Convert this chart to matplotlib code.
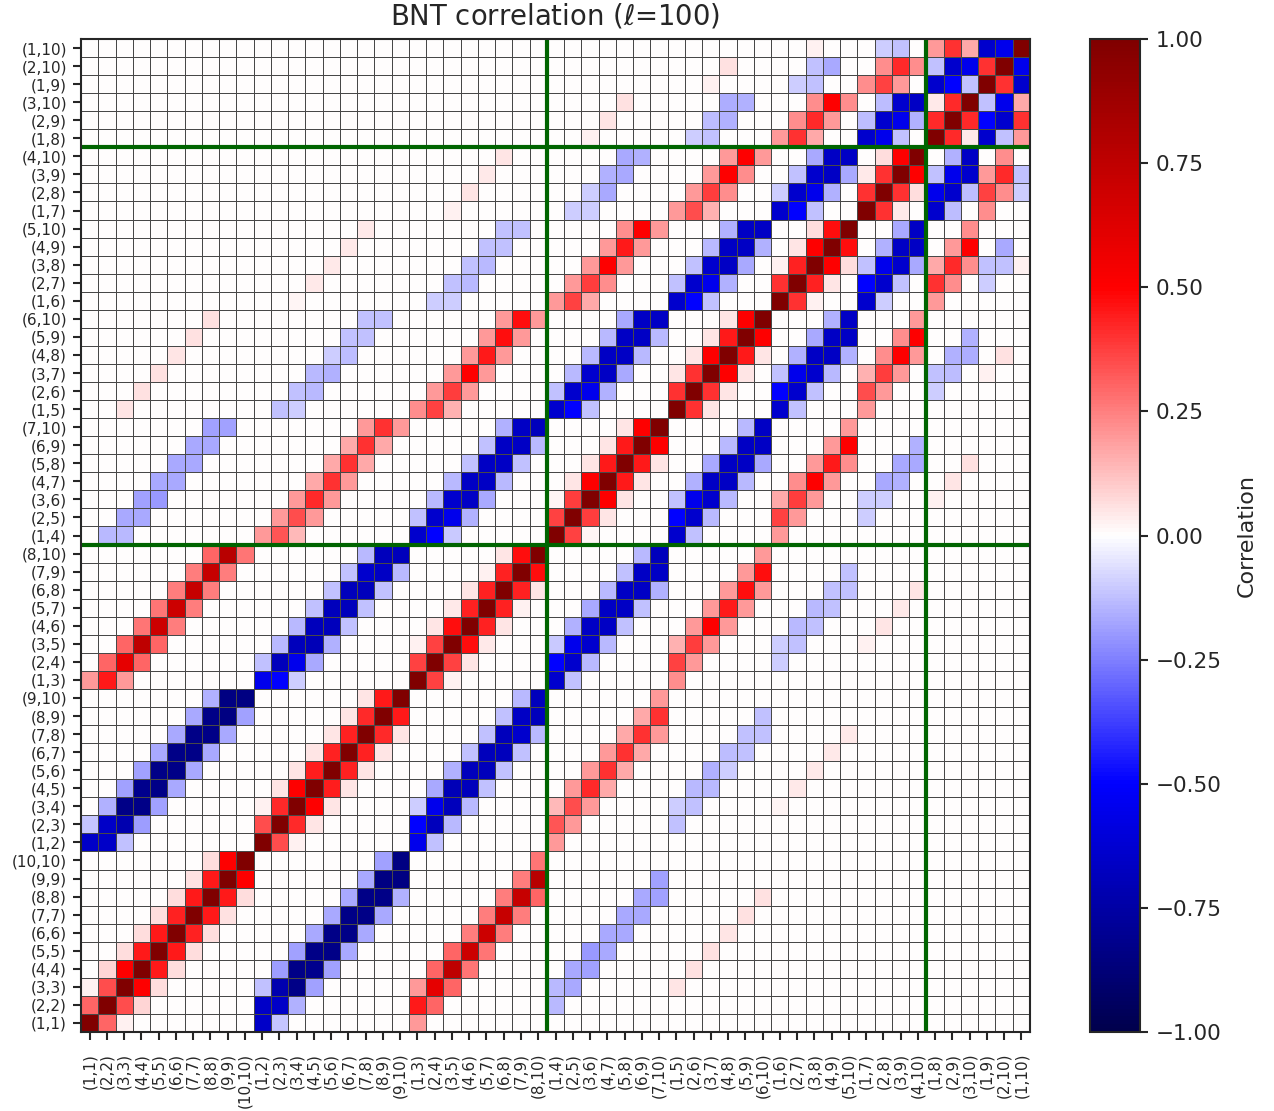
import numpy as np
import matplotlib
matplotlib.use("Agg")
import matplotlib.pyplot as plt

labels = [
    "(1,1)", "(2,2)", "(3,3)", "(4,4)", "(5,5)", "(6,6)", "(7,7)", "(8,8)", "(9,9)", "(10,10)",
    "(1,2)", "(2,3)", "(3,4)", "(4,5)", "(5,6)", "(6,7)", "(7,8)", "(8,9)", "(9,10)",
    "(1,3)", "(2,4)", "(3,5)", "(4,6)", "(5,7)", "(6,8)", "(7,9)", "(8,10)",
    "(1,4)", "(2,5)", "(3,6)", "(4,7)", "(5,8)", "(6,9)", "(7,10)",
    "(1,5)", "(2,6)", "(3,7)", "(4,8)", "(5,9)", "(6,10)",
    "(1,6)", "(2,7)", "(3,8)", "(4,9)", "(5,10)",
    "(1,7)", "(2,8)", "(3,9)", "(4,10)",
    "(1,8)", "(2,9)", "(3,10)",
    "(1,9)", "(2,10)",
    "(1,10)",
]
block_sizes = [10, 9, 8, 7, 6, 5, 4, 3, 2, 1]

# Same-block values: off-diagonal +1 and +2 (the diagonal is 1)
same_0 = [[.30, .35, .50, .45, .45, .43, .45, .45, .50], [.03, .08, .07, .07, .07, .07, .06, .07]]
same_1 = [[.35, .42, .50, .44, .43, .43, .42, .45], [.03, .05, .05, .05, .05, .05, .05]]
same_2 = [[.37, .37, .47, .43, .43, .43, .47], [.03, .05, .04, .05, .03, .05]]
same_3 = [[.37, .38, .50, .45, .45, .50], [.02, .05, .05, .05, .05]]
same_4 = [[.40, .40, .50, .45, .50], [.05, .05, .05, .05]]
same_5 = [[.40, .43, .50, .47], [.03, .05, .07]]
same_6 = [[.40, .40, .50], [.04, .07]]
same_7 = [[.42, .42], [.04]]
same_8 = [[.40], []]
same_9 = [[], []]

# Cross-block bands, from offset -2 upward
x_0_1 = [[-.125, -.19, -.18, -.165, -.165, -.165, -.165, -.18],
         [-.65, -.72, -.83, -.83, -.83, -.83, -.83, -.85, -.85],
         [-.65, -.65, -.83, -.82, -.83, -.83, -.83, -.83, -.85],
         [-.11, -.155, -.18, -.18, -.17, -.17, -.165, -.155]]
x_1_2 = [[-.10, -.165, -.155, -.125, -.125, -.125, -.135],
         [-.50, -.55, -.70, -.68, -.68, -.68, -.66, -.68],
         [-.55, -.68, -.68, -.68, -.68, -.68, -.64, -.68],
         [-.125, -.135, -.14, -.125, -.125, -.125, -.135]]
x_2_3 = [[-.105, -.155, -.165, -.135, -.125, -.135],
         [-.50, -.55, -.66, -.66, -.66, -.66, -.68],
         [-.64, -.64, -.64, -.66, -.66, -.66, -.66],
         [-.125, -.135, -.135, -.125, -.125, -.155]]
x_3_4 = [[-.125, -.155, -.165, -.135, -.135],
         [-.50, -.55, -.66, -.66, -.66, -.66],
         [-.64, -.64, -.64, -.66, -.66, -.66],
         [-.125, -.135, -.14, -.135, -.165]]
x_4_5 = [[-.125, -.155, -.165, -.155],
         [-.50, -.55, -.66, -.66, -.66],
         [-.64, -.64, -.64, -.66, -.66],
         [-.125, -.125, -.135, -.155]]
x_5_6 = [[-.12, -.15, -.17],
         [-.50, -.55, -.66, -.66],
         [-.64, -.64, -.64, -.66],
         [-.10, -.12, -.17]]
x_6_7 = [[-.12, -.15],
         [-.55, -.55, -.66],
         [-.64, -.64, -.64],
         [-.13, -.13]]
x_7_8 = [[-.125], [-.50, -.55], [-.64, -.64], [-.125]]
x_8_9 = [[], [-.55], [-.64], []]

x_0_2 = [[.20, .30, .30, .25, .25, .25, .25, .27],
         [.45, .60, .75, .70, .70, .72, .72, .78],
         [.20, .30, .30, .27, .27, .25, .25, .30]]
x_1_3 = [[.14, .20, .20, .20, .17, .17, .20],
         [.33, .35, .42, .40, .40, .40, .40],
         [.20, .20, .20, .17, .17, .17, .20]]
x_2_4 = [[.15, .20, .20, .20, .20, .20],
         [.37, .38, .50, .45, .47, .47],
         [.22, .20, .20, .20, .20, .20]]
x_3_5 = [[.17, .22, .20, .20, .20],
         [.37, .38, .50, .45, .50],
         [.20, .20, .20, .20, .22]]
x_4_6 = [[.15, .22, .22, .20],
         [.35, .38, .50, .50],
         [.20, .20, .20, .20]]
x_5_7 = [[.17, .20, .22], [.40, .42, .50], [.20, .22, .22]]
x_6_8 = [[.20, .22], [.37, .42], [.22, .22]]
x_7_9 = [[.17], [.40], [.20]]

x_0_3 = [[-.14, -.17, -.20, -.17, -.17, -.17, -.18],
         [-.14, -.17, -.18, -.17, -.17, -.17, -.18]]
x_1_4 = [[-.10, -.14, -.15, -.13, -.12, -.12],
         [-.12, -.12, -.14, -.10, -.12, -.12]]
x_2_5 = [[-.10, -.14, -.14, -.12, -.12],
         [-.10, -.12, -.12, -.12, -.12]]
x_3_6 = [[-.10, -.17, -.17, -.15],
         [-.10, -.10, -.15, -.17]]
x_4_7 = [[-.12, -.15, -.15], [-.10, -.13, -.16]]
x_5_8 = [[-.12, -.17], [-.10, -.12]]
x_6_9 = [[-.12], [-.10]]

x_0_4 = [[.05, .06, .06, .05, .06, .06]]
x_1_5 = [[.02, .04, .04, .04, .04]]
x_2_6 = [[.03, .05, .04, .05]]
x_3_7 = [[.03, .05, .06]]
x_4_8 = [[.03, .06]]
x_5_9 = [[.03]]

same_blocks = [same_0, same_1, same_2, same_3, same_4, same_5, same_6, same_7, same_8, same_9]
cross_blocks = {
    (0, 1): x_0_1, (1, 2): x_1_2, (2, 3): x_2_3, (3, 4): x_3_4, (4, 5): x_4_5,
    (5, 6): x_5_6, (6, 7): x_6_7, (7, 8): x_7_8, (8, 9): x_8_9,
    (0, 2): x_0_2, (1, 3): x_1_3, (2, 4): x_2_4, (3, 5): x_3_5, (4, 6): x_4_6,
    (5, 7): x_5_7, (6, 8): x_6_8, (7, 9): x_7_9,
    (0, 3): x_0_3, (1, 4): x_1_4, (2, 5): x_2_5, (3, 6): x_3_6, (4, 7): x_4_7,
    (5, 8): x_5_8, (6, 9): x_6_9,
    (0, 4): x_0_4, (1, 5): x_1_5, (2, 6): x_2_6, (3, 7): x_3_7, (4, 8): x_4_8, (5, 9): x_5_9,
}
separators = [27, 49]

n = len(labels)
starts = np.concatenate([[0], np.cumsum(block_sizes)])
M = np.eye(n)


def fill(p, q, offset, values):
    for k, v in enumerate(values):
        a = k + max(0, -offset)
        c = a + offset
        M[starts[p] + a, starts[q] + c] = v
        M[starts[q] + c, starts[p] + a] = v


for p, bands in enumerate(same_blocks):
    for j, values in enumerate(bands):
        fill(p, p, j + 1, values)
for (p, q), bands in cross_blocks.items():
    for j, values in enumerate(bands):
        fill(p, q, j - 2, values)

W, H = 1274, 1111
fig = plt.figure(figsize=(W / 100, H / 100), dpi=100)
ax = fig.add_axes([81 / W, 1 - 1032 / H, (1030 - 81) / W, (1032 - 39) / H])
cax = fig.add_axes([1090 / W, 1 - 1032 / H, 50 / W, (1032 - 39) / H])

edges = np.arange(n + 1)
mesh = ax.pcolormesh(edges, edges, M, cmap="seismic", vmin=-1, vmax=1,
                     edgecolors="#484848", linewidth=0.55)
ax.set_xlim(0, n)
ax.set_ylim(0, n)
ticks = np.arange(n) + 0.5
ax.set_xticks(ticks)
ax.set_yticks(ticks)
ax.set_xticklabels(labels, rotation=90, fontsize=11, color="#262626")
ax.set_yticklabels(labels, fontsize=11, color="#262626")
ax.tick_params(axis="y", length=6, width=1.5, pad=4, color="#262626")
ax.tick_params(axis="x", length=6, width=1.5, pad=9, color="#262626")
for spine in ax.spines.values():
    spine.set_linewidth(1.5)
    spine.set_color("#262626")
for s in separators:
    ax.axvline(s, color="darkgreen", lw=3)
    ax.axhline(s, color="darkgreen", lw=3)
ax.set_title(r"BNT correlation ($\ell$=100)", fontsize=19.8, pad=10.5, color="#262626")

cb = fig.colorbar(mesh, cax=cax)
cb.set_ticks([-1, -0.75, -0.5, -0.25, 0, 0.25, 0.5, 0.75, 1])
cb.set_ticklabels(["\u22121.00", "\u22120.75", "\u22120.50", "\u22120.25", "0.00", "0.25", "0.50", "0.75", "1.00"])
cb.ax.tick_params(labelsize=15.5, length=6, width=1.5, pad=5, color="#262626", labelcolor="#262626")
cb.outline.set_linewidth(1.5)
cb.outline.set_edgecolor("#262626")
cb.set_label("Correlation", fontsize=16, labelpad=11, color="#262626")

fig.savefig("out.png", dpi=100)
